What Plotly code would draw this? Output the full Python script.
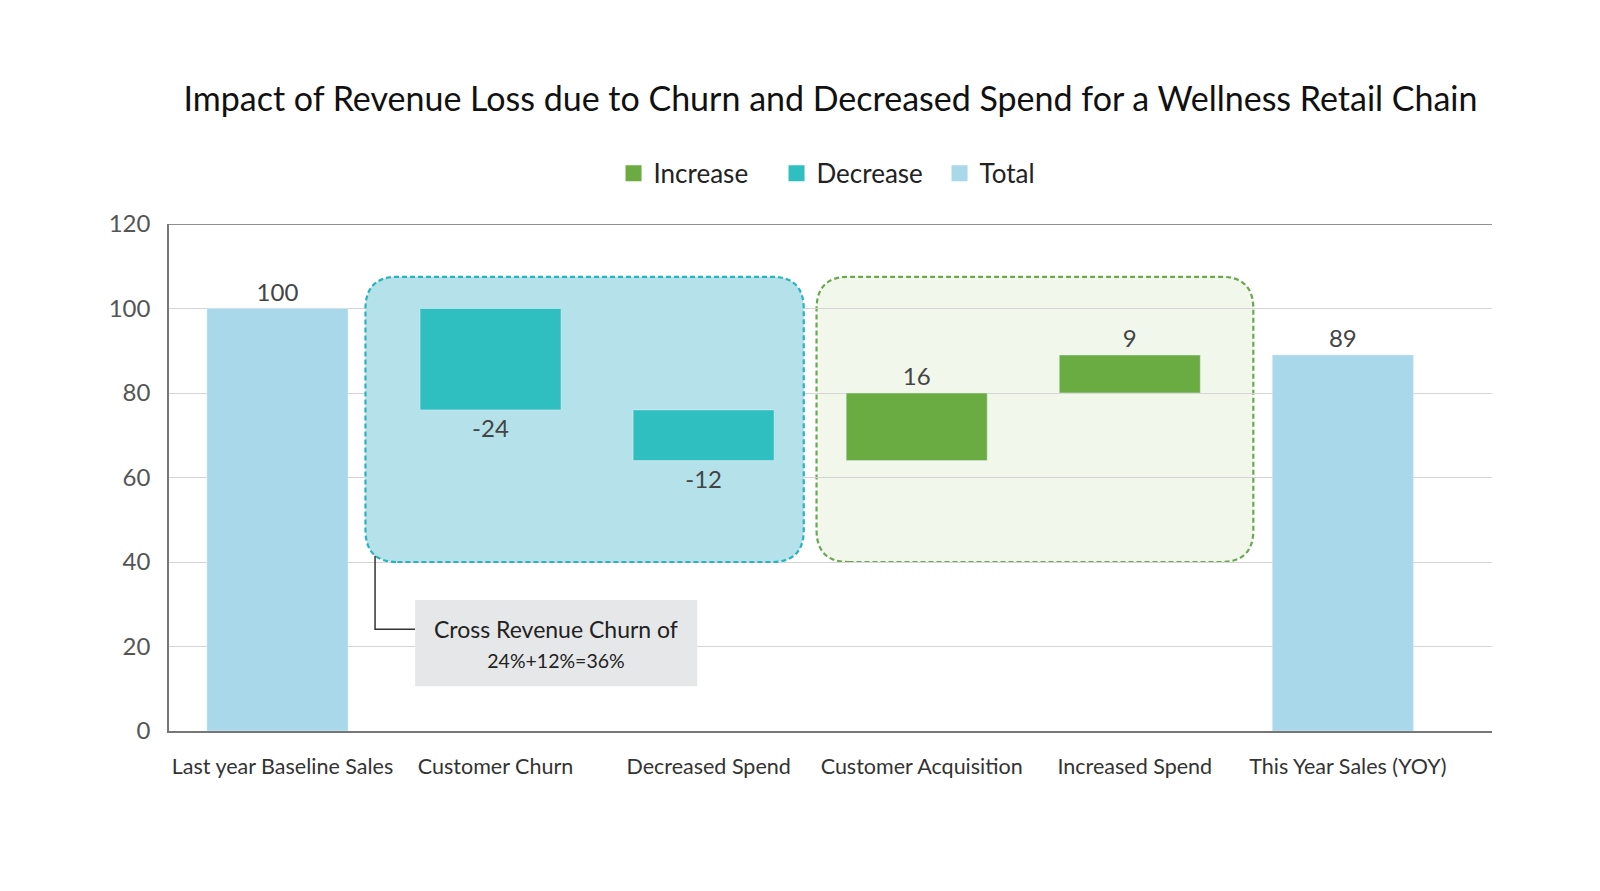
import plotly.graph_objects as go

# ---- data ----
categories = ["Last year Baseline Sales", "Customer Churn", "Decreased Spend",
              "Customer Acquisition", "Increased Spend", "This Year Sales (YOY)"]
baseline_value = 100
change_values = [-24, -12, 16, 9]
y_ticks = [0, 20, 40, 60, 80, 100, 120]
legend_names = ["Increase", "Decrease", "Total"]
title_text = "Impact of Revenue Loss due to Churn and Decreased Spend for a Wellness Retail Chain"
note_text = "Cross Revenue Churn of<br><span style='font-size:19.5px'>24%+12%=36%</span>"

# ---- styles ----
C_INC = "#6aac42"
C_DEC = "#2fbfc0"
C_TOT = "#a8d8ea"
FONT = "Lato"
BAR_W = 0.662
W, H = 1592, 883   # page body has an 8px margin

# derived running totals
final_value = baseline_value + sum(change_values)
inc_x, inc_y, inc_b = [], [], []
dec_x, dec_y, dec_b = [], [], []
running = baseline_value
for cat, v in zip(categories[1:-1], change_values):
    if v >= 0:
        inc_x.append(cat); inc_y.append(v); inc_b.append(running)
    else:
        dec_x.append(cat); dec_y.append(v); dec_b.append(running)
    running += v

fig = go.Figure()
txtfont = dict(family=FONT, size=24, color="#444444")
fig.add_bar(x=inc_x, y=inc_y, base=inc_b, marker_color=C_INC, width=BAR_W,
            text=[str(v) for v in inc_y], textposition="outside", textfont=txtfont,
            cliponaxis=False, showlegend=False, hoverinfo="skip")
fig.add_bar(x=dec_x, y=dec_y, base=dec_b, marker_color=C_DEC, width=BAR_W,
            text=[str(v) for v in dec_y], textposition="outside", textfont=txtfont,
            cliponaxis=False, showlegend=False, hoverinfo="skip")
tot_x = [categories[0], categories[-1]]
tot_y = [baseline_value, final_value]
fig.add_bar(x=tot_x, y=tot_y, marker_color=C_TOT, width=BAR_W,
            text=[str(v) for v in tot_y], textposition="outside", textfont=txtfont,
            cliponaxis=False, showlegend=False, hoverinfo="skip")

# legend entries
for name, col in zip(legend_names, [C_INC, C_DEC, C_TOT]):
    fig.add_scatter(x=[None], y=[None], mode="markers", name=name,
                    marker=dict(symbol="square", size=19, color=col))

def rounded_path(x0, x1, y0, y1, rx, ry):
    return (f"M {x0+rx},{y0} L {x1-rx},{y0} Q {x1},{y0} {x1},{y0+ry} "
            f"L {x1},{y1-ry} Q {x1},{y1} {x1-rx},{y1} L {x0+rx},{y1} "
            f"Q {x0},{y1} {x0},{y1-ry} L {x0},{y0+ry} Q {x0},{y0} {x0+rx},{y0} Z")

rx, ry = 0.15, 7.6
shapes = [
    dict(type="path", xref="x", yref="y", layer="between",
         path=rounded_path(0.413, 2.47, 40, 107.5, rx, ry),
         fillcolor="#b5e2ea", line=dict(color="#27b3bf", width=2.2, dash="5px,3px")),
    dict(type="path", xref="x", yref="y", layer="below",
         path=rounded_path(2.53, 4.58, 40, 107.5, rx, ry),
         fillcolor="#f1f8eb", line=dict(color="#6aa84f", width=2.2, dash="5px,3px")),
    # connector
    dict(type="path", xref="x", yref="y", layer="above",
         path="M 0.458,41.5 L 0.458,24.1 L 0.646,24.1",
         line=dict(color="#333333", width=1.5)),
    # note box
    dict(type="rect", xref="x", yref="y", layer="above",
         x0=0.646, x1=1.97, y0=10.6, y1=31, fillcolor="#e6e7e8", line=dict(width=0)),
    # top border
    dict(type="line", xref="paper", yref="y", x0=0, x1=1, y0=120, y1=120,
         line=dict(color="#6b6b6b", width=1.5), layer="above"),
]

fig.update_layout(
    width=W, height=H,
    margin=dict(l=161, r=108, t=216, b=160),
    paper_bgcolor="white", plot_bgcolor="white",
    barmode="overlay",
    font=dict(family=FONT, color="#333333"),
    title=dict(text=title_text, x=0.5, xref="paper", xanchor="center",
               y=1 - 91 / H, yref="container", yanchor="middle",
               font=dict(family=FONT, size=34, color="#111111")),
    legend=dict(orientation="h", x=0.336, xanchor="left", y=1.1, yanchor="middle",
                entrywidth=118, entrywidthmode="pixels",
                font=dict(family=FONT, size=26, color="#222222"), bgcolor="rgba(0,0,0,0)"),
    shapes=shapes,
    annotations=[dict(xref="x", yref="y", x=1.308, y=20.8, text=note_text, showarrow=False,
                      font=dict(family=FONT, size=23, color="#222222"), align="center")],
    xaxis=dict(type="category", categoryorder="array", categoryarray=categories,
               range=[-0.509, 5.70], showline=True, linecolor="#777777", linewidth=1.5,
               showgrid=False, ticks="", tickfont=dict(family=FONT, size=21.5, color="#333333"),
               ticklabelstandoff=15, ticklabelshift=5),
    yaxis=dict(range=[0, 120], tickvals=y_ticks, showline=True, linecolor="#777777",
               linewidth=1.5, showgrid=True, gridcolor="#d4d4d4", gridwidth=1, zeroline=False,
               ticks="", tickfont=dict(family=FONT, size=24, color="#555555"),
               ticklabelstandoff=12),
)

fig.write_html("out.html")
